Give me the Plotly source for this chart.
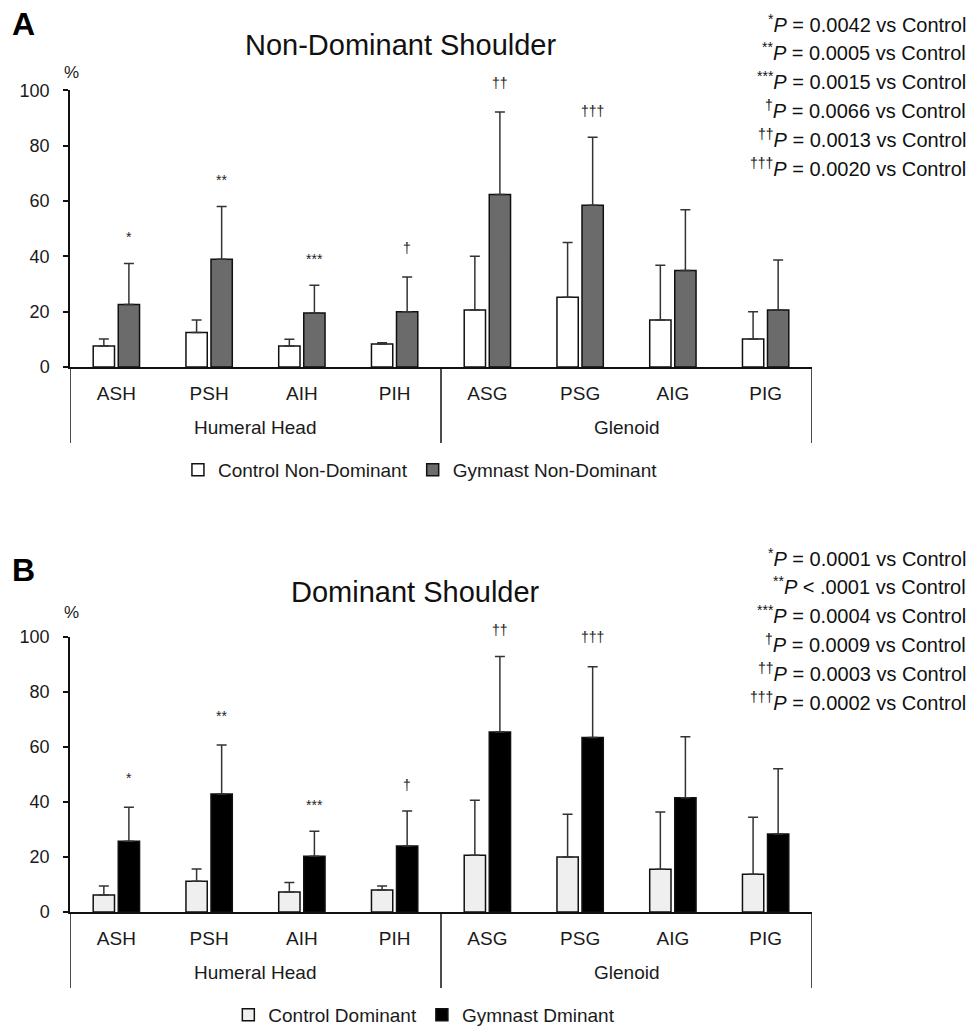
import plotly.graph_objects as go

categories = ["ASH", "PSH", "AIH", "PIH", "ASG", "PSG", "AIG", "PIG"]
groups = ["Humeral Head", "Glenoid"]

# Panel A: Non-dominant shoulder (mean %, +SD)
ctrl_nd = [7.6, 12.5, 7.6, 8.3, 20.6, 25.2, 17.0, 10.1]
ctrl_nd_sd = [2.5, 4.5, 2.4, 0.5, 19.4, 19.8, 19.8, 9.9]
gym_nd = [22.6, 38.9, 19.5, 20.0, 62.3, 58.5, 34.9, 20.6]
gym_nd_sd = [14.8, 19.1, 10.0, 12.5, 29.9, 24.5, 21.9, 18.1]
marks_nd = ["*", "**", "***", "†", "††", "†††"]
marks_nd_y = [46.9, 67.5, 38.9, 42.9, 102.5, 92.4]
pvals_nd = [("*", "= 0.0042"), ("**", "= 0.0005"), ("***", "= 0.0015"),
            ("†", "= 0.0066"), ("††", "= 0.0013"), ("†††", "= 0.0020")]

# Panel B: Dominant shoulder
ctrl_d = [6.2, 11.2, 7.3, 8.0, 20.6, 20.0, 15.5, 13.7]
ctrl_d_sd = [3.2, 4.4, 3.4, 1.4, 20.0, 15.5, 20.8, 20.7]
gym_d = [25.7, 42.8, 20.2, 24.0, 65.3, 63.3, 41.5, 28.3]
gym_d_sd = [12.3, 17.8, 9.1, 12.7, 27.4, 25.7, 22.1, 23.7]
marks_d = ["*", "**", "***", "†", "††", "†††"]
marks_d_y = [48.6, 71.0, 38.8, 46.0, 102.4, 100.0]
pvals_d = [("*", "= 0.0001"), ("**", "< .0001"), ("***", "= 0.0004"),
           ("†", "= 0.0009"), ("††", "= 0.0003"), ("†††", "= 0.0002")]

FONT = "Liberation Sans, Arial, sans-serif"
W, H = 971, 1030
xs = list(range(len(categories)))
BARGAP = 0.46
YMAX = 100

fig = go.Figure()
ann = []
shapes = []


def err(sd):
    return dict(type="data", array=sd, arrayminus=[0] * len(sd), symmetric=False,
                color="#333333", thickness=1.5, width=5)


def add_panel(xa, ya, legend, ctrl, ctrl_sd, gym, gym_sd, names, colors, marks, marks_y):
    fig.add_trace(go.Bar(x=xs, y=ctrl, name=names[0], marker=dict(color=colors[0], line=dict(color="#111", width=1.5)),
                         error_y=err(ctrl_sd), xaxis=xa, yaxis=ya, legend=legend, offsetgroup="c"))
    fig.add_trace(go.Bar(x=xs, y=gym, name=names[1], marker=dict(color=colors[1], line=dict(color="#111", width=1.5)),
                         error_y=err(gym_sd), xaxis=xa, yaxis=ya, legend=legend, offsetgroup="g"))
    off = (1 - BARGAP) / 4
    for i, (m, my) in enumerate(zip(marks, marks_y)):
        ann.append(dict(xref=xa, yref=ya + " domain", x=i + off, y=my / YMAX, text=m, showarrow=False,
                        xanchor="center", yanchor="middle",
                        font=dict(family=FONT, size=14, color="#222")))


add_panel("x", "y", "legend", ctrl_nd, ctrl_nd_sd, gym_nd, gym_nd_sd,
          ["Control Non-Dominant", "Gymnast Non-Dominant"], ["#ffffff", "#6b6b6b"], marks_nd, marks_nd_y)
add_panel("x2", "y2", "legend2", ctrl_d, ctrl_d_sd, gym_d, gym_d_sd,
          ["Control Dominant", "Gymnast Dminant"], ["#efefef", "#000000"], marks_d, marks_d_y)

# pixel geometry
x_left, x_right = 70, 812
A_zero, A_top = 367, 90.3
B_zero, B_top = 912, 636.5


def py(p):
    return 1 - p / H


axis_common = dict(showgrid=False, zeroline=False, showline=True, linecolor="#111", linewidth=1.5,
                   automargin=False)
yax = dict(axis_common, range=[0, YMAX], tickvals=[0, 20, 40, 60, 80, 100], ticks="outside", ticklen=5,
           tickwidth=1.5, tickcolor="#111", tickfont=dict(family=FONT, size=18, color="#1a1a1a"),
           ticklabelstandoff=10)
xax = dict(axis_common, range=[-0.5, 7.5], tickvals=xs, ticktext=categories, ticks="",
           tickfont=dict(family=FONT, size=19, color="#1a1a1a"), domain=[x_left / W, x_right / W],
           ticklabelstandoff=8)

fig.update_layout(
    template="none",
    width=W, height=H, margin=dict(l=0, r=0, t=0, b=0, pad=0, autoexpand=False),
    paper_bgcolor="white", plot_bgcolor="white",
    barmode="group", bargap=BARGAP, bargroupgap=0.15,
    xaxis=dict(xax, anchor="y"),
    yaxis=dict(yax, anchor="x", domain=[py(A_zero), py(A_top)]),
    xaxis2=dict(xax, anchor="y2"),
    yaxis2=dict(yax, anchor="x2", domain=[py(B_zero), py(B_top)]),
    legend=dict(orientation="h", x=0.433, xanchor="center", y=py(470), yanchor="middle",
                font=dict(family=FONT, size=19, color="#1a1a1a"), itemwidth=30, traceorder="normal",
                bgcolor="rgba(0,0,0,0)"),
    legend2=dict(orientation="h", x=0.437, xanchor="center", y=py(1015), yanchor="middle",
                 font=dict(family=FONT, size=19, color="#1a1a1a"), itemwidth=30, traceorder="normal",
                 bgcolor="rgba(0,0,0,0)"),
    showlegend=True,
)

for xa, zero, bottom, grp_y, letter, letter_y, title, title_x, title_y, pct_y, pv, pv_y0 in [
    ("x", A_zero, 443, 428, "A", 24, "Non-Dominant Shoulder", 400, 45, 72, pvals_nd, 23),
    ("x2", B_zero, 988, 972, "B", 570, "Dominant Shoulder", 415, 592, 612, pvals_d, 557),
]:
    for xv in [-0.5, 3.5, 7.5]:
        shapes.append(dict(type="line", xref=xa, yref="paper", x0=xv, x1=xv, y0=py(zero), y1=py(bottom),
                           line=dict(color="#111", width=1.5)))
    for gi, g in enumerate(groups):
        ann.append(dict(xref=xa, yref="paper", x=1.5 + 4 * gi, y=py(grp_y), text=g, showarrow=False,
                        font=dict(family=FONT, size=19, color="#1a1a1a"), yanchor="middle"))
    ann.append(dict(xref="paper", yref="paper", x=10 / W, y=py(letter_y), text="<b>" + letter + "</b>",
                    showarrow=False, xanchor="left", yanchor="middle",
                    font=dict(family=FONT, size=32, color="#000")))
    ann.append(dict(xref="paper", yref="paper", x=title_x / W, y=py(title_y), text=title, showarrow=False,
                    xanchor="center", yanchor="middle", font=dict(family=FONT, size=29, color="#111")))
    ann.append(dict(xref="paper", yref="paper", x=71 / W, y=py(pct_y), text="%", showarrow=False,
                    xanchor="center", yanchor="middle", font=dict(family=FONT, size=17, color="#1a1a1a")))
    for k, (sym, val) in enumerate(pv):
        ann.append(dict(xref="paper", yref="paper", x=968 / W, y=py(pv_y0 + 28.8 * k),
                        text="<sup>" + sym + "</sup><i>P</i> " + val + " vs Control", showarrow=False,
                        xanchor="right", yanchor="middle", font=dict(family=FONT, size=20, color="#111")))

fig.update_layout(annotations=ann, shapes=shapes)
fig.write_html("out.html", config={"displayModeBar": False},
               post_script="document.body.style.margin='0';document.body.style.overflow='hidden';")
